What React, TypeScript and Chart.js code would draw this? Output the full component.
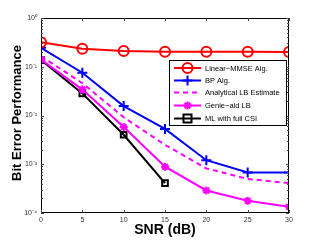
import React, { useEffect, useRef } from "react";
import { Chart, registerables } from "chart.js";

Chart.register(...registerables);

const snr = [0, 5, 10, 15, 20, 25, 30];
const linearMMSE = [0.317, 0.234, 0.21, 0.204, 0.204, 0.204, 0.2];
const bpAlg = [0.245, 0.0753, 0.0156, 0.0053, 0.00121, 0.00068, 0.00068];
const analyticalLB = [0.165, 0.046, 0.0092, 0.0025, 0.00082, 0.0005, 0.00041];
const genieLB = [0.14, 0.034, 0.0058, 0.00089, 0.00029, 0.000178, 0.000134];
const mlSnr = [0, 5, 10, 15];
const mlCSI = [0.137, 0.0284, 0.00402, 0.00041];
const yTickValues = [1e-4, 1e-3, 1e-2, 1e-1, 1];
const yTickLabels = ["10⁻⁴", "10⁻³", "10⁻²", "10⁻¹", "10⁰"];
const xTickValues = [0, 5, 10, 15, 20, 25, 30];
const legendLabels = ["Linear−MMSE Alg.", "BP Alg.", "Analytical LB Estimate", "Genie−aid LB", "ML with full CSI"];

function drawMarker(ctx: CanvasRenderingContext2D, style: string, x: number, y: number, r: number, color: string) {
  ctx.save();
  ctx.strokeStyle = color;
  ctx.lineWidth = 2;
  ctx.setLineDash([]);
  ctx.beginPath();
  if (style === "circle") {
    ctx.arc(x, y, r, 0, Math.PI * 2);
  } else if (style === "cross") {
    ctx.moveTo(x - r, y); ctx.lineTo(x + r, y);
    ctx.moveTo(x, y - r); ctx.lineTo(x, y + r);
  } else if (style === "star") {
    ctx.moveTo(x - r, y); ctx.lineTo(x + r, y);
    ctx.moveTo(x, y - r); ctx.lineTo(x, y + r);
    const d = r * 0.707;
    ctx.moveTo(x - d, y - d); ctx.lineTo(x + d, y + d);
    ctx.moveTo(x - d, y + d); ctx.lineTo(x + d, y - d);
  } else if (style === "rect") {
    ctx.rect(x - r, y - r, 2 * r, 2 * r);
  }
  ctx.stroke();
  ctx.restore();
}

const framePlugin = {
  id: "frame",
  afterDraw(chart: any) {
    const { ctx, chartArea: a, scales } = chart;
    const xs = scales.x, ys = scales.y;
    ctx.save();
    ctx.strokeStyle = "#000";
    ctx.lineWidth = 1;
    ctx.strokeRect(a.left + 0.5, a.top + 0.5, a.right - a.left - 1, a.bottom - a.top - 1);
    ctx.strokeStyle = "#444";
    ctx.beginPath();
    xTickValues.forEach((v) => {
      const px = Math.round(xs.getPixelForValue(v)) + 0.5;
      ctx.moveTo(px, a.bottom); ctx.lineTo(px, a.bottom - 3);
      ctx.moveTo(px, a.top); ctx.lineTo(px, a.top + 3);
    });
    yTickValues.forEach((v) => {
      const py = Math.round(ys.getPixelForValue(v)) + 0.5;
      ctx.moveTo(a.left, py); ctx.lineTo(a.left + 3, py);
      ctx.moveTo(a.right, py); ctx.lineTo(a.right - 3, py);
    });
    for (let e = -4; e < 0; e++) {
      for (let m = 2; m <= 9; m++) {
        const py = Math.round(ys.getPixelForValue(m * Math.pow(10, e))) + 0.5;
        ctx.moveTo(a.left, py); ctx.lineTo(a.left + 2, py);
        ctx.moveTo(a.right, py); ctx.lineTo(a.right - 2, py);
      }
    }
    ctx.stroke();

    ctx.fillStyle = "#000";
    ctx.font = "bold 14px 'Liberation Sans', Arial, sans-serif";
    ctx.textAlign = "center";
    ctx.textBaseline = "middle";
    ctx.fillText("SNR (dB)", (a.left + a.right) / 2, 230);
    ctx.save();
    ctx.translate(17, 113);
    ctx.rotate(-Math.PI / 2);
    ctx.font = "bold 13px 'Liberation Sans', Arial, sans-serif";
    ctx.fillText("Bit Error Performance", 0, 0);
    ctx.restore();

    const lx = 169, ly = 60, lw = 117, lh = 65;
    ctx.fillStyle = "#fff";
    ctx.fillRect(lx, ly, lw, lh);
    ctx.strokeStyle = "#000";
    ctx.lineWidth = 1;
    ctx.strokeRect(lx + 0.5, ly + 0.5, lw, lh);
    const rowY = [68, 80.5, 92.5, 105.5, 118.5];
    ctx.font = "7.5px 'Liberation Sans', Arial, sans-serif";
    ctx.textAlign = "left";
    chart.data.datasets.forEach((ds: any, i: number) => {
      const y = rowY[i];
      ctx.save();
      ctx.strokeStyle = ds.borderColor;
      ctx.lineWidth = 2;
      ctx.setLineDash(ds.borderDash || []);
      ctx.beginPath();
      ctx.moveTo(174, y); ctx.lineTo(201, y);
      ctx.stroke();
      ctx.restore();
      if (ds.pointRadius > 0) drawMarker(ctx, ds.pointStyle, 187.5, y, ds.pointRadius, ds.pointBorderColor || ds.borderColor);
      ctx.fillStyle = "#000";
      ctx.fillText(legendLabels[i], 205, y + 0.5);
    });
    ctx.restore();
  },
};

export default function App() {
  const ref = useRef<HTMLCanvasElement>(null);
  useEffect(() => {
    document.body.style.margin = "0";
    const mk = (x: number[], y: number[]) => x.map((v, i) => ({ x: v, y: y[i] }));
    const chart = new Chart(ref.current!, {
      type: "line",
      data: {
        datasets: [
          { label: legendLabels[0], data: mk(snr, linearMMSE), borderColor: "#ff0000", backgroundColor: "rgba(0,0,0,0)", borderWidth: 2, pointStyle: "circle", pointRadius: 5, pointBorderWidth: 2, pointBorderColor: "#ff0000", pointBackgroundColor: "rgba(0,0,0,0)" },
          { label: legendLabels[1], data: mk(snr, bpAlg), borderColor: "#0000ff", backgroundColor: "rgba(0,0,0,0)", borderWidth: 2, pointStyle: "cross", pointRadius: 5, pointBorderWidth: 2, pointBorderColor: "#0000ff" },
          { label: legendLabels[2], data: mk(snr, analyticalLB), borderColor: "#ff00ff", backgroundColor: "rgba(0,0,0,0)", borderWidth: 2, borderDash: [5, 4], pointRadius: 0, pointStyle: "circle" },
          { label: legendLabels[3], data: mk(snr, genieLB), borderColor: "#ff00ff", backgroundColor: "rgba(0,0,0,0)", borderWidth: 2, pointStyle: "star", pointRadius: 4, pointBorderWidth: 2, pointBorderColor: "#ff00ff" },
          { label: legendLabels[4], data: mk(mlSnr, mlCSI), borderColor: "#000000", backgroundColor: "rgba(0,0,0,0)", borderWidth: 2, pointStyle: "rect", pointRadius: 4, pointBorderWidth: 2, pointBorderColor: "#000000", pointBackgroundColor: "rgba(0,0,0,0)" },
        ],
      },
      options: {
        animation: false,
        responsive: false,
        maintainAspectRatio: false,
        layout: { padding: { top: 18, right: 30, left: 0, bottom: 0 } },
        plugins: { legend: { display: false }, tooltip: { enabled: false } },
        scales: {
          x: {
            type: "linear",
            min: 0,
            max: 30,
            afterBuildTicks: (s: any) => { s.ticks = xTickValues.map((v) => ({ value: v })); },
            afterFit: (s: any) => { s.height = 27; },
            grid: { display: false, drawTicks: false },
            border: { display: false },
            ticks: { font: { size: 7, family: "'Liberation Sans', Arial, sans-serif" }, color: "#333", padding: 3, maxRotation: 0 },
          },
          y: {
            type: "logarithmic",
            min: 1e-4,
            max: 1,
            afterBuildTicks: (s: any) => { s.ticks = yTickValues.map((v) => ({ value: v })); },
            afterFit: (s: any) => { s.width = 41; },
            grid: { display: false, drawTicks: false },
            border: { display: false },
            ticks: {
              font: { size: 7, family: "'Liberation Sans', Arial, sans-serif" },
              color: "#333",
              padding: 4,
              callback: (v: any) => {
                const i = yTickValues.findIndex((t) => Math.abs(t - v) / t < 1e-6);
                return i >= 0 ? yTickLabels[i] : "";
              },
            },
          },
        },
      },
      plugins: [framePlugin],
    } as any);
    return () => chart.destroy();
  }, []);
  return (
    <div style={{ width: 319, height: 240 }}>
      <canvas ref={ref} width={319} height={240} style={{ width: 319, height: 240, display: "block" }} />
    </div>
  );
}
